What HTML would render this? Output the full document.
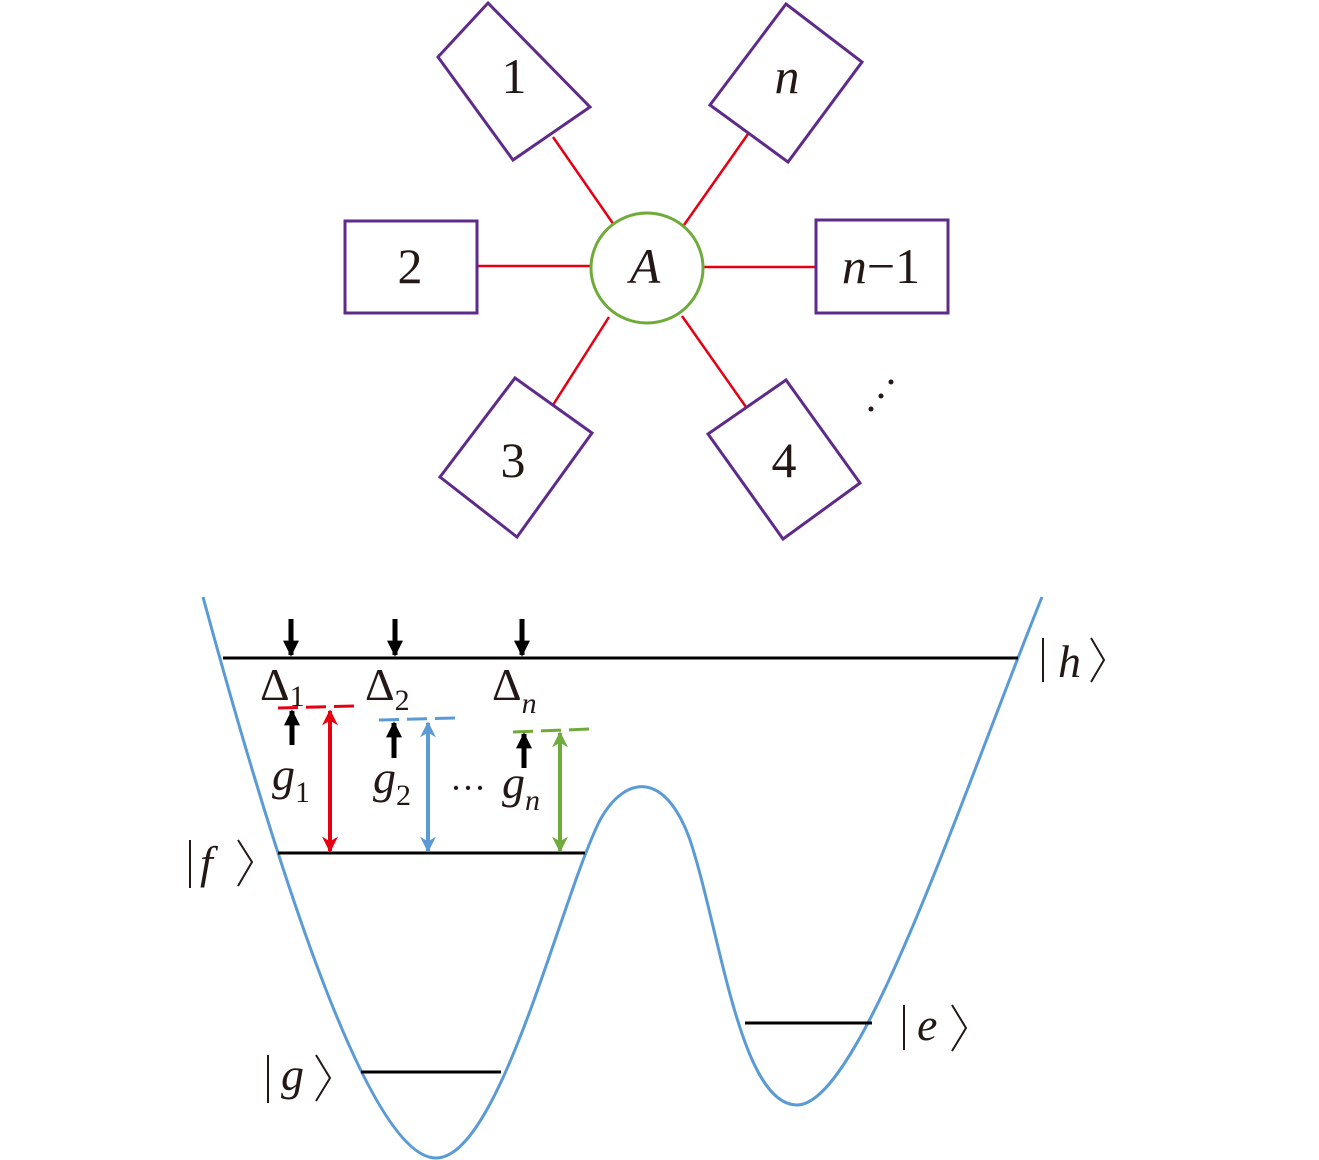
<!DOCTYPE html>
<html><head><meta charset="utf-8"><style>
html,body{margin:0;padding:0;background:#fff;width:1319px;height:1160px;overflow:hidden}
text{font-family:"Liberation Serif","Times New Roman",serif;fill:#231815}
</style></head><body>
<svg width="1319" height="1160" viewBox="0 0 1319 1160" xmlns="http://www.w3.org/2000/svg">
<defs>
<marker id="ar" viewBox="0 0 10 10" refX="9" refY="5" markerWidth="5" markerHeight="4" orient="auto-start-reverse" markerUnits="strokeWidth"><path d="M0,0 L10,5 L0,10 L3,5 z" fill="context-stroke"/></marker>
<marker id="bk" viewBox="0 0 10 10" refX="9" refY="5" markerWidth="3.2" markerHeight="3.4" orient="auto" markerUnits="strokeWidth"><path d="M0,0 L10,5 L0,10 z" fill="#000"/></marker>
</defs>
<g stroke="#e60012" stroke-width="2.5">
<line x1="553" y1="137" x2="614" y2="225"/>
<line x1="748" y1="134" x2="684" y2="225"/>
<line x1="477" y1="266" x2="591" y2="266"/>
<line x1="704" y1="267" x2="816" y2="267"/>
<line x1="553" y1="405" x2="609" y2="317"/>
<line x1="746" y1="407" x2="682" y2="316"/>
</g>
<g stroke="#5f2b8b" stroke-width="3" fill="none">
<polygon points="438,57 488,3 590,107 513,160"/>
<polygon points="710,105 786,4 862,62 788,162"/>
<rect x="345" y="221" width="132" height="92"/>
<rect x="816" y="220" width="132" height="93"/>
<polygon points="440,477 515,378 592,433 517,537"/>
<polygon points="708,434 786,380 860,483 783,539"/>
</g>
<ellipse cx="647" cy="268" rx="56" ry="55" fill="#fff" stroke="#6fab3a" stroke-width="3"/>
<g font-size="50" text-anchor="middle">
<text x="514" y="93">1</text>
<text x="787" y="93" font-style="italic">n</text>
<text x="410" y="283">2</text>
<text x="645" y="283" font-style="italic">A</text>
<text x="881" y="283"><tspan font-style="italic">n</tspan>−1</text>
<text x="513" y="477">3</text>
<text x="784" y="477">4</text>
</g>
<g fill="#231815"><circle cx="871" cy="409" r="2.5"/><circle cx="881" cy="396" r="2.5"/><circle cx="891" cy="382" r="2.5"/></g>
<path d="M203,597 C280,880 370,1158 436,1158 C500,1158 560,900 600,820 C625,775 665,770 690,840 C720,930 740,1105 797,1105 C860,1105 960,800 1042,597" fill="none" stroke="#5b9bd5" stroke-width="3"/>
<g stroke="#000" stroke-width="3">
<line x1="223" y1="658" x2="1018" y2="658"/>
<line x1="278" y1="853" x2="585" y2="853"/>
<line x1="361" y1="1072" x2="501" y2="1072"/>
<line x1="745" y1="1023" x2="872" y2="1023"/>
</g>
<g stroke-width="3" stroke-dasharray="20,8">
<line x1="278" y1="708" x2="355" y2="706" stroke="#e60012"/>
<line x1="379" y1="720" x2="456" y2="718" stroke="#5b9bd5"/>
<line x1="513" y1="732" x2="590" y2="729" stroke="#6fab3a"/>
</g>
<g stroke-width="4" fill="none">
<line x1="330" y1="711" x2="330" y2="851" stroke="#e60012" marker-start="url(#ar)" marker-end="url(#ar)"/>
<line x1="428" y1="723" x2="428" y2="851" stroke="#5b9bd5" marker-start="url(#ar)" marker-end="url(#ar)"/>
<line x1="560" y1="733" x2="560" y2="851" stroke="#6fab3a" marker-start="url(#ar)" marker-end="url(#ar)"/>
</g>
<g stroke="#000" stroke-width="5">
<line x1="291" y1="619" x2="291" y2="655" marker-end="url(#bk)"/>
<line x1="395" y1="619" x2="395" y2="655" marker-end="url(#bk)"/>
<line x1="522" y1="619" x2="522" y2="655" marker-end="url(#bk)"/>
<line x1="292" y1="745" x2="292" y2="711" marker-end="url(#bk)"/>
<line x1="394" y1="758" x2="394" y2="723" marker-end="url(#bk)"/>
<line x1="524" y1="768" x2="524" y2="734" marker-end="url(#bk)"/>
</g>
<g font-size="46">
<text x="260" y="700">Δ<tspan font-size="30" dy="6">1</tspan></text>
<text x="365" y="700">Δ<tspan font-size="30" dy="10">2</tspan></text>
<text x="492" y="700">Δ<tspan font-size="30" dy="13" font-style="italic">n</tspan></text>
<text x="272" y="790" font-style="italic">g<tspan font-size="30" font-style="normal" dy="12">1</tspan></text>
<text x="373" y="793" font-style="italic">g<tspan font-size="30" font-style="normal" dy="12">2</tspan></text>
<text x="450" y="800" font-size="36">···</text>
<text x="502" y="798" font-style="italic">g<tspan font-size="30" dy="12">n</tspan></text>
<text x="1058" y="677" font-style="italic">h</text>
<text x="200" y="878" font-style="italic">f</text>
<text x="281" y="1090" font-style="italic">g</text>
<text x="917" y="1040" font-style="italic">e</text>
</g>
<g stroke="#231815" stroke-width="2" fill="none">
<line x1="1043" y1="638" x2="1043" y2="682"/><polyline points="1091,638 1104,660 1091,682"/>
<line x1="190" y1="840" x2="190" y2="888"/><polyline points="238,840 252,862 238,886"/>
<line x1="268" y1="1055" x2="268" y2="1103"/><polyline points="316,1055 330,1078 316,1101"/>
<line x1="904" y1="1005" x2="904" y2="1050"/><polyline points="952,1005 966,1028 952,1051"/>
</g>
</svg>
</body></html>
